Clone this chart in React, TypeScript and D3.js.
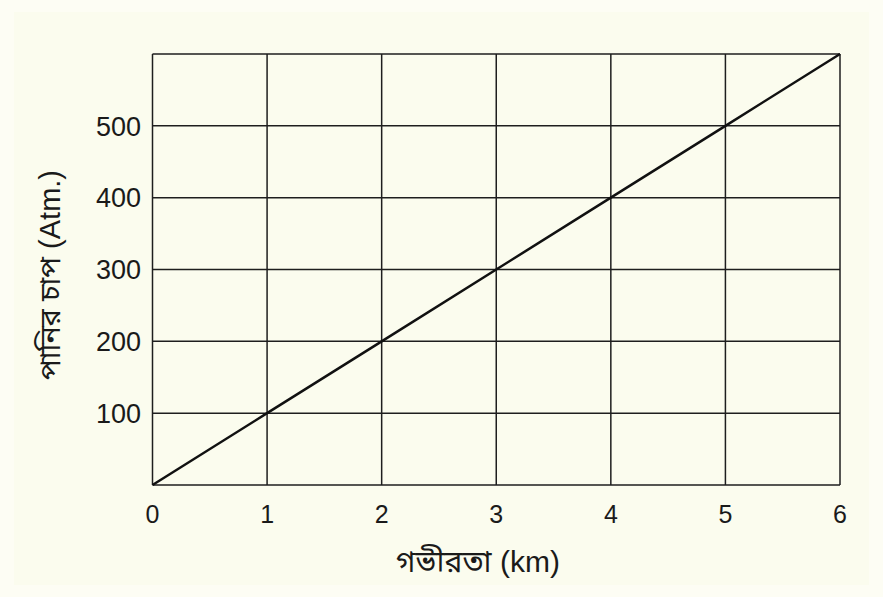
import React from "react";
import * as d3 from "d3";

const depthKm = [0, 1, 2, 3, 4, 5, 6];
const pressureAtm = [0, 100, 200, 300, 400, 500, 600];
const xTicks = [0, 1, 2, 3, 4, 5, 6];
const yTicks = [100, 200, 300, 400, 500];
const yGrid = [0, 100, 200, 300, 400, 500, 600];
const xTitle = "গভীরতা (km)";
const yTitle = "পানির চাপ (Atm.)";

const W = 883;
const H = 597;
const left = 152.5;
const right = 840;
const top = 54;
const bottom = 485;

export default function App() {
  const x = d3.scaleLinear().domain([0, 6]).range([left, right]);
  const y = d3.scaleLinear().domain([0, 600]).range([bottom, top]);
  const line = d3
    .line<number>()
    .x((_, i) => x(depthKm[i]))
    .y((d) => y(d));
  const font = "'Liberation Sans', Arial, 'Noto Sans Bengali', 'Lohit Bengali', sans-serif";
  return (
    <svg
      width={W}
      height={H}
      style={{ position: "absolute", left: 0, top: 0, display: "block" }}
    >
      <rect x={0} y={0} width={W} height={H} fill="#fdfdf4" />
      <rect x={14} y={12} width={W - 28} height={H - 24} fill="#fbfcee" />
      {xTicks.map((t) => (
        <line
          key={"gx" + t}
          x1={x(t)}
          x2={x(t)}
          y1={top}
          y2={bottom}
          stroke="#1e1e1e"
          strokeWidth={1.5}
        />
      ))}
      {yGrid.map((t) => (
        <line
          key={"gy" + t}
          x1={left}
          x2={right}
          y1={y(t)}
          y2={y(t)}
          stroke="#1e1e1e"
          strokeWidth={1.5}
        />
      ))}
      <path d={line(pressureAtm) || ""} fill="none" stroke="#111" strokeWidth={2.5} />
      {xTicks.map((t) => (
        <text
          key={"tx" + t}
          x={x(t)}
          y={523}
          textAnchor="middle"
          fontFamily={font}
          fontSize={25}
          fill="#1a1a1a"
        >
          {t}
        </text>
      ))}
      {yTicks.map((t) => (
        <text
          key={"ty" + t}
          x={141}
          y={y(t)}
          dy="0.36em"
          textAnchor="end"
          fontFamily={font}
          fontSize={27}
          fill="#1a1a1a"
        >
          {t}
        </text>
      ))}
      <text
        x={478}
        y={572}
        textAnchor="middle"
        fontFamily={font}
        fontSize={30}
        fill="#1a1a1a"
      >
        {xTitle}
      </text>
      <text
        transform={`translate(60, ${275}) rotate(-90)`}
        textAnchor="middle"
        fontFamily={font}
        fontSize={29}
        fill="#1a1a1a"
      >
        {yTitle}
      </text>
    </svg>
  );
}
